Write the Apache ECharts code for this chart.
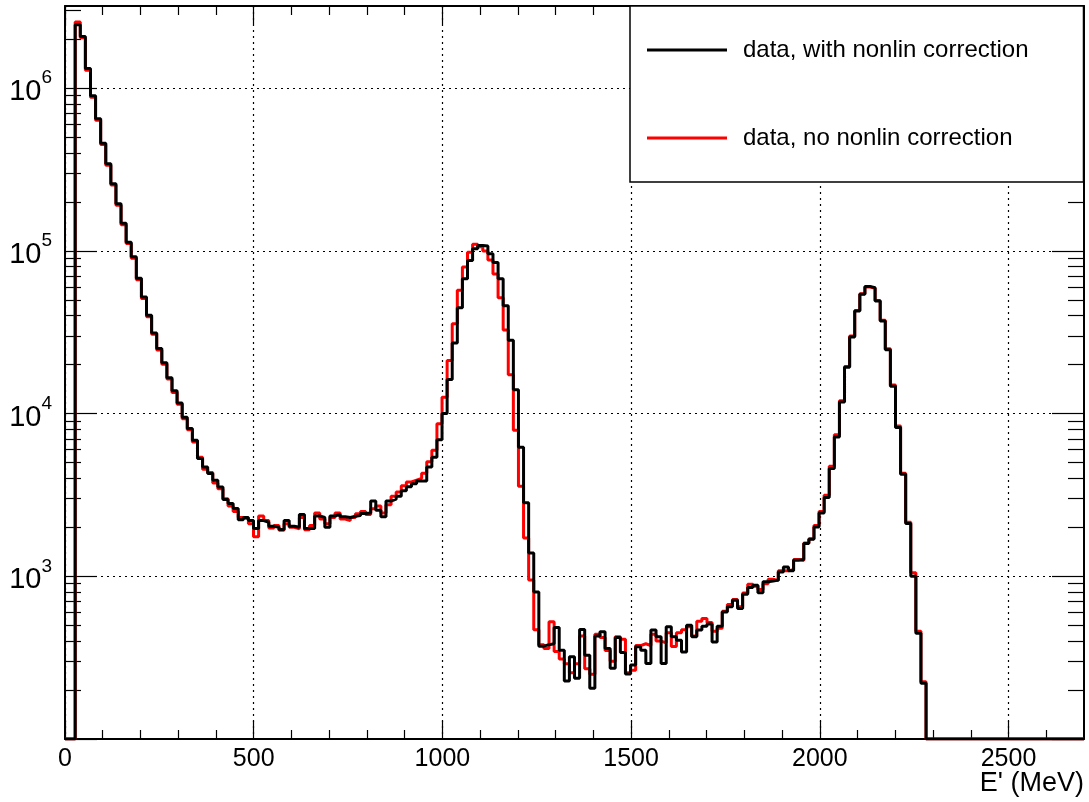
<!DOCTYPE html>
<html><head><meta charset="utf-8">
<script src="https://cdn.jsdelivr.net/npm/echarts@6/dist/echarts.min.js"></script>
<style>html,body{margin:0;padding:0;background:#fff}#c{width:1089px;height:802px}</style>
</head><body><div id="c"></div>
<script>
// ---------------- data ----------------
const xMin = 0, xMax = 2700, binWidth = 13.5;          // 200 bins, MeV
const yMin = 100, yMax = 3.2e6;                          // log axis range
const xMajorTicks = [0, 500, 1000, 1500, 2000, 2500];
const xMinorTicks = [100,200,300,400,600,700,800,900,1100,1200,1300,1400,1600,1700,1800,1900,2100,2200,2300,2400,2600];
const yDecadeExps = [2, 3, 4, 5, 6];
const yLabelExps = [3, 4, 5, 6];
const yMinorMult = [2, 3, 4, 5, 6, 7, 8, 9];
const xTitle = "E' (MeV)";
const nameWith = 'data, with nonlin correction';
const nameNo = 'data, no nonlin correction';

const withNonlin = [
  0, 0, 2.45e6, 2.08e6, 1.32e6, 9.0e5, 6.49e5, 4.59e5, 3.43e5, 2.59e5,
  1.95e5, 1.48e5, 1.13e5, 9.2e4, 6.78e4, 5.2e4, 4.02e4, 3.13e4, 2.51e4, 2.05e4,
  1.66e4, 1.38e4, 1.16e4, 9500, 8100, 6860, 5290, 4700, 4280, 3890,
  3540, 2960, 2800, 2610, 2230, 2300, 2200, 1970, 2200, 2150,
  2030, 2000, 1940, 2200, 2030, 2000, 2400, 1970, 1970, 2350,
  2300, 2000, 2350, 2400, 2320, 2300, 2340, 2360, 2430, 2450,
  2900, 2550, 2320, 2900, 2980, 3100, 3350, 3550, 3700, 3850,
  3850, 4700, 5400, 6900, 1.0e4, 1.62e4, 2.72e4, 4.48e4, 6.75e4, 8.74e4,
  1.03e5, 1.08e5, 1.07e5, 9.6e4, 8.5e4, 6.75e4, 4.6e4, 2.82e4, 1.40e4, 6200,
  2830, 1390, 800, 372, 380, 385, 484, 351, 227, 320,
  236, 471, 327, 205, 429, 456, 360, 272, 421, 340,
  251, 285, 369, 351, 291, 467, 425, 291, 490, 425,
  405, 343, 500, 425, 467, 493, 510, 395, 493, 604,
  649, 713, 634, 776, 853, 881, 791, 925, 935, 947,
  1064, 1142, 1080, 1256, 1270, 1590, 1690, 2010, 2450, 3050,
  4590, 7180, 1.18e4, 1.93e4, 2.96e4, 4.27e4, 5.41e4, 6.05e4, 5.94e4, 4.92e4,
  3.71e4, 2.47e4, 1.47e4, 8200, 4240, 2110, 1000, 447, 220, 0,
  0, 0, 0, 0, 0, 0, 0, 0, 0, 0,
  0, 0, 0, 0, 0, 0, 0, 0, 0, 0,
  0, 0, 0, 0, 0, 0, 0, 0, 0, 0
];

const noNonlin = [
  0, 0, 2.55e6, 2.04e6, 1.29e6, 8.8e5, 6.36e5, 4.5e5, 3.36e5, 2.54e5,
  1.91e5, 1.45e5, 1.11e5, 9.0e4, 6.65e4, 5.1e4, 3.94e4, 3.07e4, 2.46e4, 2.01e4,
  1.63e4, 1.35e4, 1.14e4, 9300, 7950, 6700, 5400, 4550, 4350, 3750,
  3450, 3000, 2700, 2500, 2300, 2250, 2100, 1750, 2350, 2200,
  1980, 2050, 1920, 2100, 2000, 1960, 2300, 1930, 2050, 2450,
  2250, 2100, 2300, 2450, 2250, 2200, 2300, 2420, 2500, 2400,
  2600, 2700, 2450, 2750, 3100, 3300, 3600, 3800, 3900, 4000,
  4300, 5050, 5960, 8670, 1.26e4, 2.12e4, 3.57e4, 5.72e4, 7.95e4, 9.8e4,
  1.1e5, 1.06e5, 1.0e5, 8.8e4, 7.2e4, 5.16e4, 3.26e4, 1.73e4, 7900, 3580,
  1720, 950, 470, 380, 360, 525, 345, 310, 290, 255,
  290, 430, 270, 250, 440, 420, 350, 300, 425, 410,
  255, 265, 375, 385, 375, 440, 400, 390, 450, 370,
  450, 470, 490, 430, 530, 550, 520, 460, 480, 610,
  670, 720, 650, 790, 895, 870, 830, 900, 960, 940,
  1080, 1080, 1100, 1270, 1250, 1600, 1700, 2050, 2500, 3150,
  4750, 7400, 1.2e4, 1.95e4, 3.0e4, 4.3e4, 5.45e4, 6.0e4, 5.9e4, 4.95e4,
  3.75e4, 2.5e4, 1.5e4, 8400, 4300, 2150, 1050, 460, 225, 0,
  0, 0, 0, 0, 0, 0, 0, 0, 0, 0,
  0, 0, 0, 0, 0, 0, 0, 0, 0, 0,
  0, 0, 0, 0, 0, 0, 0, 0, 0, 0
];

// ---------------- build ----------------
const FONT = 'Liberation Sans, Arial, Helvetica, sans-serif';
const lg = v => Math.log10(v);
const yLo = lg(yMin), yHi = lg(yMax);
function histData(vals) {
  const pts = vals.map((v, i) => [xMin + i * binWidth, v > yMin ? lg(v) : yLo]);
  const last = vals[vals.length - 1];
  pts.push([xMin + vals.length * binWidth, last > yMin ? lg(last) : yLo]);
  return pts;
}
const yMinorVals = [];
yDecadeExps.forEach(e => yMinorMult.forEach(m => { const v = lg(m) + e; if (v <= yHi) yMinorVals.push(v); }));

const black = '#000';
const gridDash = { color: black, width: 1.2, type: [2, 4] };
function xAx(pos, major) {
  return {
    type: 'value', position: pos, min: xMin, max: xMax,
    axisLine: { show: major, onZero: false, lineStyle: { color: black, width: 2 } },
    axisTick: { show: true, inside: true, length: major ? 18 : 9, customValues: major ? xMajorTicks : xMinorTicks, lineStyle: { color: black, width: 1.2 } },
    axisLabel: { show: false },
    splitLine: { show: false }
  };
}
function yAx(pos, major) {
  return {
    type: 'value', position: pos, min: yLo, max: yHi,
    axisLine: { show: major, onZero: false, lineStyle: { color: black, width: 2 } },
    axisTick: { show: true, inside: true, length: major ? 32 : 16, customValues: major ? yDecadeExps : yMinorVals, lineStyle: { color: black, width: 1.2 } },
    axisLabel: { show: false },
    splitLine: { show: false }
  };
}
const xAxes = [xAx('bottom', true), xAx('bottom', false), xAx('top', true), xAx('top', false)];
xAxes[0].axisLabel = { show: true, customValues: xMajorTicks, fontSize: 25, color: black, fontFamily: FONT, margin: 8, formatter: v => String(v) };
xAxes[0].splitLine = { show: true, lineStyle: gridDash };
const yAxes = [yAx('left', true), yAx('left', false), yAx('right', true), yAx('right', false)];
yAxes[0].axisLabel = {
  show: true, customValues: yLabelExps, margin: 13,
  formatter: v => '{a|10}{b|' + Math.round(v) + '}',
  rich: {
    a: { fontSize: 29, color: black, fontFamily: FONT, padding: [8, 0, 0, 0] },
    b: { fontSize: 19, color: black, fontFamily: FONT, padding: [0, 0, 20, 0] }
  }
};
yAxes[0].splitLine = { show: true, lineStyle: gridDash };

const chart = echarts.init(document.getElementById('c'), null, { renderer: 'canvas' });
chart.setOption({
  animation: false,
  backgroundColor: '#fff',
  grid: { left: 65, right: 5, top: 6, bottom: 63, containLabel: false, outerBoundsMode: 'none' },
  xAxis: xAxes,
  yAxis: yAxes,
  graphic: [{
    type: 'text', right: 5, top: 770, z: 10,
    style: { text: xTitle, fontSize: 27, fontFamily: FONT, fill: black }
  }],
  legend: {
    data: [nameWith, nameNo],
    orient: 'vertical', left: 630, top: 6,
    icon: 'rect', itemWidth: 80, itemHeight: 3, itemGap: 62,
    padding: [31, 55, 31, 17],
    backgroundColor: '#fff', borderColor: black, borderWidth: 1.5,
    selectedMode: false,
    textStyle: { fontSize: 24, color: black, fontFamily: FONT, lineHeight: 26, padding: [0, 0, 0, 11] }
  },
  series: [
    { name: nameNo, type: 'line', step: 'end', symbol: 'none', xAxisIndex: 0, yAxisIndex: 0,
      data: histData(noNonlin), lineStyle: { color: '#ff0000', width: 3 }, itemStyle: { color: '#ff0000' } },
    { name: nameWith, type: 'line', step: 'end', symbol: 'none', xAxisIndex: 0, yAxisIndex: 0,
      data: histData(withNonlin), lineStyle: { color: black, width: 3 }, itemStyle: { color: black } }
  ]
});
</script>
</body></html>
